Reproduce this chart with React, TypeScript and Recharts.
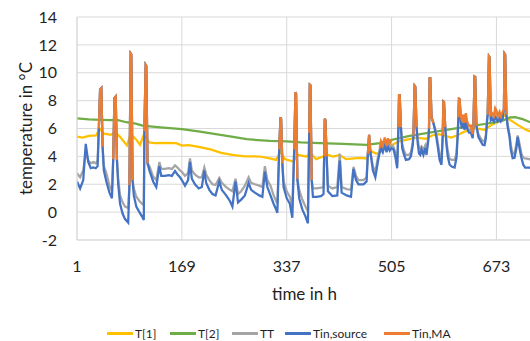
import { CartesianGrid, Line, LineChart, XAxis, YAxis } from "recharts";

// hourly samples of the indoor series (hours since start)
const hours = [
  1, 6, 11, 15, 19, 23, 27, 31, 34, 36, 38, 40, 42,
  44, 48, 53, 57, 59, 61, 63, 65, 67, 70, 74, 78, 83, 85, 87, 88, 90,
  92, 96, 101, 105, 108, 109, 111, 112, 114, 117, 123, 128, 133, 136, 142, 148, 153, 158, 162, 166, 169,
  174, 179, 182, 185, 190, 196, 201, 205, 208, 213, 218, 223, 229, 233, 240, 246, 250, 255, 259, 264,
  270, 276, 280, 286, 293, 298, 302, 306, 311, 316, 319, 322,
  325, 327, 328, 330, 332, 337, 342, 346, 349, 351, 352, 354, 357, 362, 367, 371, 373, 374, 375, 377,
  379, 385, 392, 396, 397, 398, 399, 401,
  403, 410, 418, 422, 425, 433, 440, 444, 448, 452, 460, 465, 467, 469, 471, 475, 479, 483, 486, 488,
  491, 494, 497, 499, 502, 505, 508, 511, 514,
  516, 517, 518, 520, 522, 525, 528, 533, 536, 539, 540, 542, 543, 545, 547, 549, 551, 553, 556, 559,
  561, 564, 565, 566, 567, 569, 572, 576, 579, 582, 585, 587, 588, 589, 591,
  593, 595, 598, 602, 606, 609, 611, 612, 613, 614, 616, 618, 620, 622, 624, 626, 629, 632, 635, 636,
  638, 639, 641, 644, 648, 651, 654, 656, 658, 659, 661, 662, 664, 666, 669, 671, 673, 675, 678, 680,
  683, 685, 686, 687, 689,
  691, 694, 696, 699, 702, 705, 707, 710, 713, 716, 719, 726, 730,
];

const tinSource = [
  2.2, 1.7, 2.3, 4.9, 3.6, 3.15, 3.2, 3.15, 3.3, 6.0, 8.8, 8.9, 4.7,
  3.0, 2.2, 1.4, 1.0, 3.8, 8.2, 8.3, 3.75, 2.0, 0.6, -0.1, -0.5, -0.75, 1.95, 11.37, 11.3, 2.3,
  1.2, 0.4, 0.0, -0.3, -0.56, 5.8, 10.57, 10.5, 3.5, 3.0, 2.2, 1.8, 3.3, 2.6, 2.6, 2.65, 2.6, 2.95, 2.7, 2.5, 2.3,
  1.9, 2.3, 3.6, 2.4, 2.0, 1.7, 1.8, 3.0, 2.1, 1.6, 1.3, 1.2, 2.2, 1.6, 1.2, 0.8, 0.4, 2.2, 0.7, 0.9,
  1.2, 2.1, 1.6, 1.4, 1.2, 1.1, 2.9, 1.8, 1.2, 0.6, 0.3, -0.05,
  4.5, 6.8, 6.7, 3.5, 1.8, 1.0, 0.6, -0.4, 4.5, 8.6, 8.5, 2.4, 1.0, 0.2, -0.3, -0.8, 5.7, 9.14, 9.1, 2.3,
  1.1, 1.1, 1.15, 1.3, 4.0, 6.7, 6.6, 4.0,
  1.5, 1.15, 1.2, 3.7, 1.4, 1.2, 1.1, 3.1, 2.3, 2.0, 2.0, 2.2, 4.2, 5.55, 4.35, 3.0, 2.5, 3.6, 4.3, 4.6,
  4.3, 4.8, 4.3, 4.7, 4.4, 4.6, 4.5, 4.0, 3.15,
  6.1, 8.4, 8.4, 6.1, 4.6, 4.1, 3.75, 3.8, 4.0, 4.8, 5.5, 9.06, 9.0, 6.1, 4.9, 4.2, 4.1, 4.5, 4.1, 4.6,
  4.1, 5.2, 6.0, 9.6, 9.6, 6.8, 6.4, 5.6, 4.7, 3.75, 3.4, 5.5, 7.94, 7.9, 6.1,
  4.8, 4.0, 3.4, 3.25, 3.2, 3.9, 5.5, 6.8, 8.13, 8.1, 6.4, 6.0, 6.4, 5.9, 6.5, 6.0, 5.7, 5.7, 5.3, 6.0,
  9.73, 9.7, 6.2, 5.4, 5.07, 4.83, 4.8, 5.3, 6.5, 7.0, 11.17, 11.1, 6.6, 6.7, 6.5, 6.8, 6.7, 6.5, 6.7, 6.5,
  6.7, 7.4, 11.37, 11.3, 7.0,
  6.1, 5.4, 4.5, 3.87, 3.9, 4.6, 5.4, 4.6, 3.9, 3.4, 3.2, 3.2, 3.1,
];

const tt = [
  2.8, 2.5, 3.0, 4.3, 3.7, 3.5, 3.6, 3.5, 3.7, 6.0, 8.8, 8.9, 4.7,
  3.3, 2.8, 1.9, 1.5, 3.8, 8.2, 8.3, 3.75, 2.4, 1.2, 0.7, 0.4, 0.3, 1.95, 11.37, 11.3, 2.3,
  1.7, 1.1, 0.8, 0.6, 0.5, 5.8, 10.57, 10.5, 3.5, 3.3, 2.55, 2.3, 3.6, 3.1, 3.1, 3.15, 3.1, 3.35, 3.2, 3.0, 2.9,
  2.6, 2.8, 3.85, 3.0, 2.7, 2.5, 2.5, 3.2, 2.7, 2.3, 2.0, 1.95, 2.45, 2.1, 1.8, 1.6, 1.5, 2.4, 1.3, 1.5,
  1.9, 2.5, 2.1, 2.0, 1.9, 1.8, 3.3, 2.3, 1.9, 1.2, 0.9, 0.6,
  4.5, 6.8, 6.7, 3.5, 2.2, 1.5, 1.1, 0.4, 4.5, 8.6, 8.5, 2.4, 1.6, 0.9, 0.4, 0.05, 5.7, 9.14, 9.1, 2.3,
  1.7, 1.7, 1.75, 1.8, 4.0, 6.7, 6.6, 4.0,
  1.9, 1.7, 1.8, 4.2, 1.8, 1.65, 1.6, 3.25, 2.6, 2.3, 2.3, 2.5, 4.2, 5.55, 4.35, 3.3, 2.9, 3.9, 4.5, 4.8,
  4.5, 5.0, 4.5, 4.9, 4.6, 4.8, 4.7, 4.3, 3.4,
  6.1, 8.4, 8.4, 6.1, 4.9, 4.4, 4.1, 4.1, 4.3, 5.0, 5.5, 9.06, 9.0, 6.1, 5.2, 4.6, 4.5, 4.7, 4.5, 4.8,
  4.5, 5.4, 6.0, 9.6, 9.6, 6.8, 6.4, 5.8, 5.0, 4.1, 3.8, 5.5, 7.94, 7.9, 6.1,
  5.1, 4.4, 3.8, 3.75, 3.75, 4.2, 5.8, 6.8, 8.13, 8.1, 6.6, 6.2, 6.6, 6.1, 6.7, 6.2, 5.9, 5.9, 5.5, 6.0,
  9.73, 9.7, 6.2, 5.6, 5.3, 5.1, 5.1, 5.5, 6.7, 7.0, 11.17, 11.1, 6.8, 6.9, 6.7, 7.1, 7.0, 6.7, 6.9, 6.7,
  6.9, 7.4, 11.37, 11.3, 7.0,
  6.3, 5.6, 4.8, 4.2, 4.2, 4.9, 5.5, 4.9, 4.2, 3.9, 3.85, 3.8, 3.7,
];

// moving average only reported during the warm peaks
const n = null;
const tinMA = [
  n, n, n, n, n, n, n, n, n, 6.0, 8.8, 8.9, 4.7,
  n, n, n, n, 3.8, 8.2, 8.3, 3.75, n, n, n, n, n, 1.95, 11.37, 11.3, 2.3,
  n, n, n, n, n, 5.8, 10.57, 10.5, 3.5, n, n, n, n, n, n, n, n, n, n, n, n,
  n, n, n, n, n, n, n, n, n, n, n, n, n, n, n, n, n, n, n, n,
  n, n, n, n, n, n, n, n, n, n, n, n,
  4.5, 6.8, 6.7, 3.5, n, n, n, n, 4.5, 8.6, 8.5, 2.4, n, n, n, n, 5.7, 9.14, 9.1, 2.3,
  n, n, n, n, 4.0, 6.7, 6.6, 4.0,
  n, n, n, n, n, n, n, n, n, n, n, n, 4.2, 5.55, 4.35, n, n, n, 4.6, 5.1,
  4.8, 5.35, 4.75, 5.3, 4.9, 5.2, n, n, n,
  6.1, 8.4, 8.4, 6.1, n, n, n, n, n, n, 5.5, 9.06, 9.0, 6.1, n, n, n, n, n, n,
  n, n, 6.0, 9.6, 9.6, 6.8, 6.4, n, n, n, n, 5.5, 7.94, 7.9, 6.1,
  n, n, n, n, n, n, n, 6.8, 8.13, 8.1, 6.9, 6.5, 7.0, 6.4, 7.1, 6.5, 6.2, 6.2, 5.6, 6.0,
  9.73, 9.7, 6.2, n, n, n, n, n, n, 7.0, 11.17, 11.1, 7.0, 7.1, 6.9, 7.46, 7.3, 6.9, 7.2, 6.9,
  7.2, 7.4, 11.37, 11.3, 7.0,
  n, n, n, n, n, n, n, n, n, n, n, n, n,
];

const t1Hours = [
  1, 10, 20, 32, 37, 43, 55, 62, 70, 81, 87, 96, 102, 108, 117, 125, 140, 160, 169, 180,
  198, 215, 232, 250, 270, 294, 310, 320, 327, 334, 347, 355, 368, 376, 384, 395, 400, 411, 422, 432,
  454, 465, 473, 480, 486, 494, 502, 515, 530, 545, 560, 570, 580, 590, 600, 610, 622, 638, 654, 665,
  676, 686, 693, 707, 721, 730,
];
const t1 = [
  5.42, 5.35, 5.47, 5.5, 6.03, 5.65, 5.55, 5.72, 5.4, 4.78, 5.6, 5.2, 4.83, 5.55, 5.0, 4.95, 4.97, 4.95, 4.78, 4.8,
  4.66, 4.5, 4.25, 4.1, 4.0, 3.99, 3.85, 3.75, 4.35, 3.8, 3.63, 4.11, 3.99, 4.2, 3.8, 3.99, 4.15, 3.99, 4.1, 3.8,
  3.9, 3.85, 4.35, 4.2, 4.25, 4.6, 4.71, 5.05, 5.2, 5.35, 5.25, 5.5, 5.6, 5.5, 5.35, 5.5, 5.78, 6.02, 5.9, 6.26,
  6.5, 6.98, 6.67, 6.26, 5.9, 5.75,
];

const t2Hours = [
  1, 20, 40, 55, 65, 80, 95, 106, 130, 169, 198, 241, 273, 310, 337, 360, 390, 427, 465, 486,
  505, 534, 561, 593, 625, 657, 683, 695, 703, 715, 730,
];
const t2 = [
  6.72, 6.66, 6.62, 6.6, 6.62, 6.45, 6.35, 6.21, 6.1, 5.95, 5.78, 5.47, 5.23, 5.11, 5.07, 5.0, 4.95, 4.9, 4.83, 4.95,
  5.19, 5.47, 5.67, 5.9, 6.14, 6.34, 6.57, 6.8, 6.82, 6.67, 6.4,
];

const xTicks = [1, 169, 337, 505, 673];
const yTicks = [-2, 0, 2, 4, 6, 8, 10, 12, 14];

const series = [
  { name: "T[1]", color: "#FFC000" },
  { name: "T[2]", color: "#70AD47" },
  { name: "TT", color: "#A5A5A5" },
  { name: "Tin,source", color: "#4472C4" },
  { name: "Tin,MA", color: "#ED7D31" },
];
// left edge of each legend entry, px
const legendLeft = [107, 170, 232, 285, 384];

const indoor = hours.map((h, i) => ({ h, tt: tt[i], src: tinSource[i], ma: tinMA[i] }));
const t1Data = t1Hours.map((h, i) => ({ h, v: t1[i] }));
const t2Data = t2Hours.map((h, i) => ({ h, v: t2[i] }));

const FONT = "Lato, 'Open Sans', sans-serif";
const TEXT = "#1f1f1f";
const GRID = "#d9d9d9";

export default function App() {
  return (
    <div
      style={{
        position: "fixed",
        left: 0,
        top: 0,
        width: 530,
        height: 341,
        overflow: "hidden",
        background: "#fff",
        fontFamily: FONT,
      }}
    >
      <LineChart width={540} height={341} data={indoor} margin={{ top: 17, right: 8, bottom: 0, left: 0 }}>
        <CartesianGrid stroke={GRID} />
        <XAxis
          dataKey="h"
          type="number"
          domain={[1, 730]}
          allowDataOverflow
          ticks={xTicks}
          interval={0}
          height={101}
          tickSize={0}
          tickMargin={21}
          axisLine={{ stroke: GRID }}
          tickLine={false}
          tick={{ fill: TEXT, fontSize: 16, fontFamily: FONT }}
          label={{ value: "time in h", position: "insideTop", offset: 48, fill: TEXT, fontSize: 17, fontFamily: FONT }}
        />
        <YAxis
          type="number"
          domain={[-2, 14]}
          ticks={yTicks}
          interval={0}
          width={77}
          tickSize={0}
          tickMargin={20}
          axisLine={{ stroke: GRID }}
          tickLine={false}
          tick={{ fill: TEXT, fontSize: 16, fontFamily: FONT }}
          label={{
            value: "temperature in °C",
            angle: -90,
            position: "center",
            dx: -13,
            fill: TEXT,
            fontSize: 17,
            fontFamily: FONT,
          }}
        />
        <Line data={t1Data} dataKey="v" name="T[1]" type="linear" stroke="#FFC000" strokeWidth={2.25} dot={false} isAnimationActive={false} />
        <Line data={t2Data} dataKey="v" name="T[2]" type="linear" stroke="#70AD47" strokeWidth={2.25} dot={false} isAnimationActive={false} />
        <Line dataKey="tt" name="TT" type="linear" stroke="#A5A5A5" strokeWidth={2.25} dot={false} isAnimationActive={false} />
        <Line dataKey="src" name="Tin,source" type="linear" stroke="#4472C4" strokeWidth={2.25} dot={false} isAnimationActive={false} />
        <Line dataKey="ma" name="Tin,MA" type="linear" stroke="#ED7D31" strokeWidth={2.25} dot={false} isAnimationActive={false} />
      </LineChart>
      {series.map((s, i) => (
        <div
          key={s.name}
          style={{
            position: "absolute",
            left: legendLeft[i],
            top: 325,
            height: 16,
            display: "flex",
            alignItems: "center",
            fontSize: 12,
            color: TEXT,
            whiteSpace: "nowrap",
          }}
        >
          <span style={{ display: "inline-block", width: 26, height: 3, background: s.color, marginRight: 2 }} />
          <span>{s.name}</span>
        </div>
      ))}
    </div>
  );
}
